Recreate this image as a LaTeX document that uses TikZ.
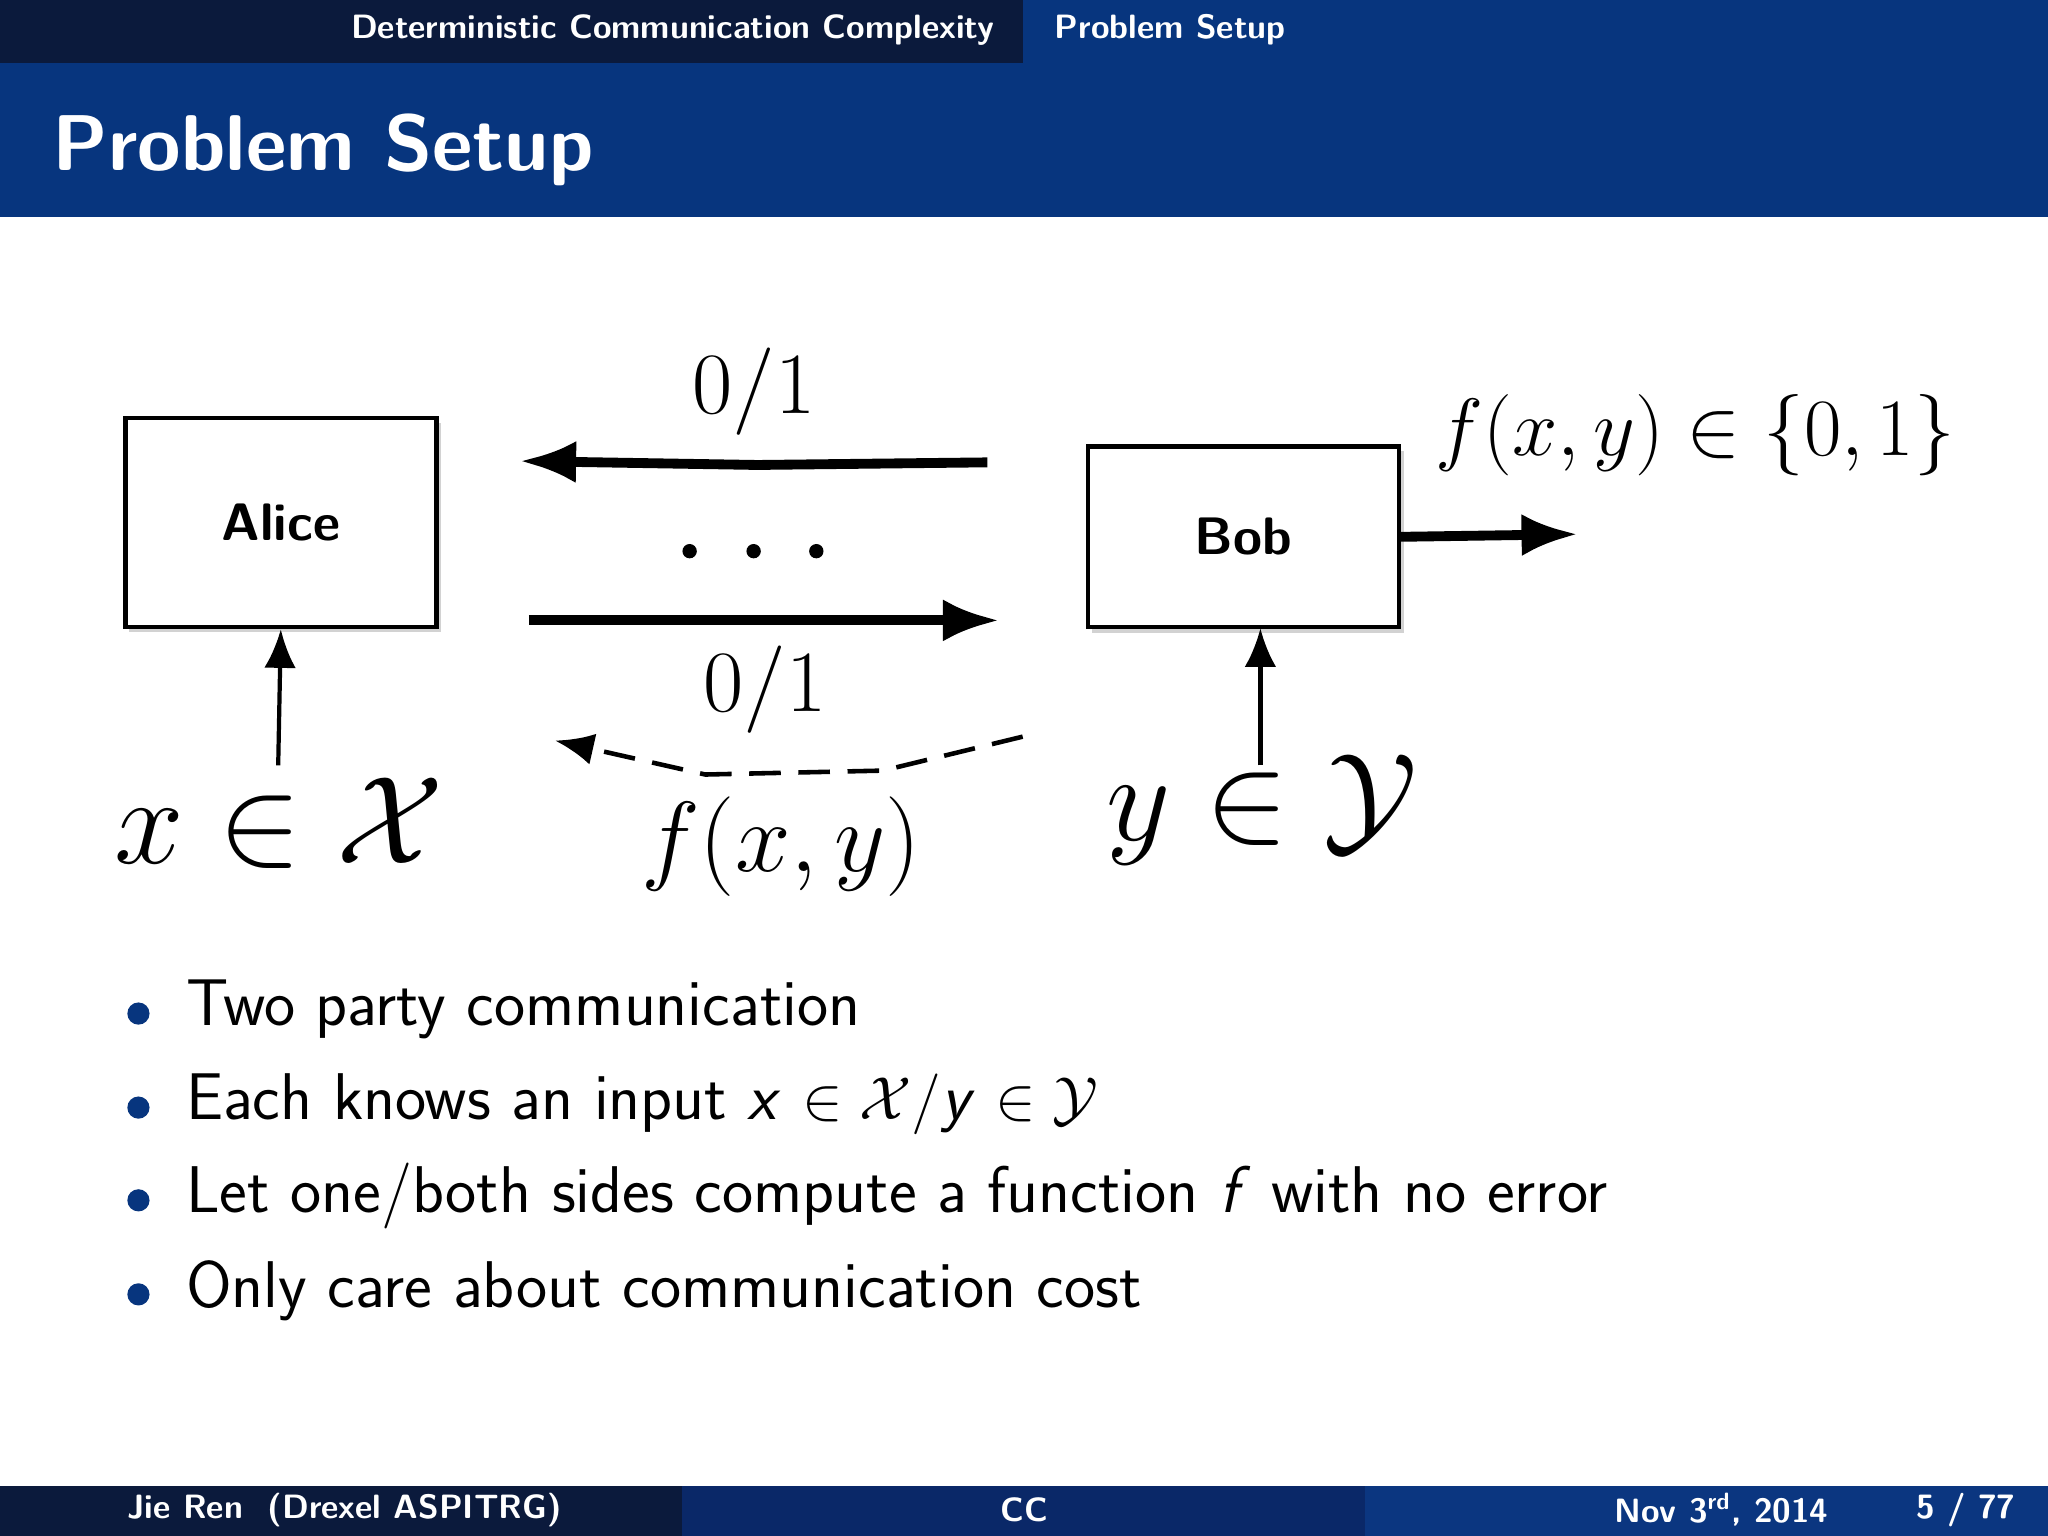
\documentclass[tikz,border=0pt]{standalone}
\usepackage{amsmath,amssymb}
\usetikzlibrary{arrows.meta}
\definecolor{navy}{HTML}{0B1A3C}
\definecolor{hblue}{HTML}{07357E}
\definecolor{fmid}{HTML}{0A2868}
\definecolor{fright}{HTML}{0B3680}
\newlength{\pxu}\setlength{\pxu}{0.3716pt}
\newcommand{\sfi}[1]{\textsf{\itshape #1}}
\tikzset{box/.style={draw,line width=1.3pt,minimum width=238\pxu,minimum height=160\pxu,font=\sffamily\bfseries\fontsize{15}{18}\selectfont},
  thick arr/.style={line width=2.8pt,-{Latex[length=16pt,width=12pt]}},
  thin arr/.style={line width=1.2pt,-{Latex[length=11pt,width=9pt]}},
  bul/.style={anchor=west,font=\sffamily\fontsize{18.8}{22}\selectfont},
  hdr/.style={white,font=\sffamily\bfseries\fontsize{9.6}{11}\selectfont}}
\begin{document}
\begin{tikzpicture}[x=0.013061cm,y=-0.013061cm]
\useasboundingbox (0,0) rectangle (1568,1176);
\fill[navy] (0,0) rectangle (783,48);
\fill[hblue] (783,0) rectangle (1568,48);
\fill[hblue] (0,48) rectangle (1568,166);
\node[hdr] (h1) at (515,23) {Deterministic Communication Complexity};
\node[hdr] (h2) at (896,23) {Problem Setup};
\node[white,anchor=west,font=\sffamily\bfseries\fontsize{22.5}{27}\selectfont] (title) at (31,115) {Problem Setup};
% footer
\fill[navy] (0,1138) rectangle (522,1176);
\fill[fmid] (522,1138) rectangle (1045,1176);
\fill[fright] (1045,1138) rectangle (1568,1176);
\node[hdr,anchor=west] (f1) at (88,1156) {Jie Ren\ \ (Drexel ASPITRG)};
\node[hdr] (f2) at (784,1156) {CC};
\node[hdr] (f3) at (1318,1156) {Nov 3\textsuperscript{rd}, 2014};
\node[hdr] (f4) at (1505,1156) {5 / 77};
% diagram
\fill[gray!35] (99,324) rectangle (338,484);
\fill[gray!35] (836,345) rectangle (1075,485);
\node[box,fill=white] (alice) at (215,400) {Alice};
\node[box,fill=white,minimum height=138\pxu] (bob) at (952,411) {Bob};
\node[font=\fontsize{24}{28}\selectfont] (l1) at (577,300) {$0/1$};
\draw[thick arr] (756,354) -- (580,356) -- (398,353);
\foreach \dx in {528,577,625} \fill (\dx,422) circle (5.5);
\draw[thick arr] (405,475) -- (765,475);
\node[font=\fontsize{24}{28}\selectfont] (l2) at (586,528) {$0/1$};
\draw[line width=1.3pt,dash pattern=on 9pt off 5pt,-{Latex[length=11pt,width=9pt]}] (783,564) -- (676,590) -- (540,593) -- (425,567);
\node[font=\fontsize{24}{28}\selectfont] (fxy) at (598,648) {\scalebox{1.14}{$f(x,y)$}};
\node[font=\fontsize{24}{28}\selectfont] (xin) at (214,630) {\scalebox{1.43}{$x\in\mathcal{X}$}};
\node[font=\fontsize{24}{28}\selectfont] (yin) at (966,620) {\scalebox{1.43}{$y\in\mathcal{Y}$}};
\draw[thin arr] (213,586) -- (alice.south);
\draw[thin arr] (965,586) -- (965,481);
\draw[thick arr] (bob.east) -- (1208,409);
\node[font=\fontsize{24}{28}\selectfont] (out) at (1298,333) {\scalebox{0.93}{$f(x,y)\in\{0,1\}$}};
% bullets
\foreach \yy/\tx [count=\i] in {773/{Two party communication},845/{Each knows an input \sfi{x} $\in\mathcal{X}/$\sfi{y} $\in\mathcal{Y}$},916/{Let one/both sides compute a function \sfi{f} with no error},988/{Only care about communication cost}}{
  \fill[hblue] (106,\yy+3) circle (8.5);
  \node[bul] (b\i) at (133,\yy) {\tx};
}
\end{tikzpicture}
\end{document}
